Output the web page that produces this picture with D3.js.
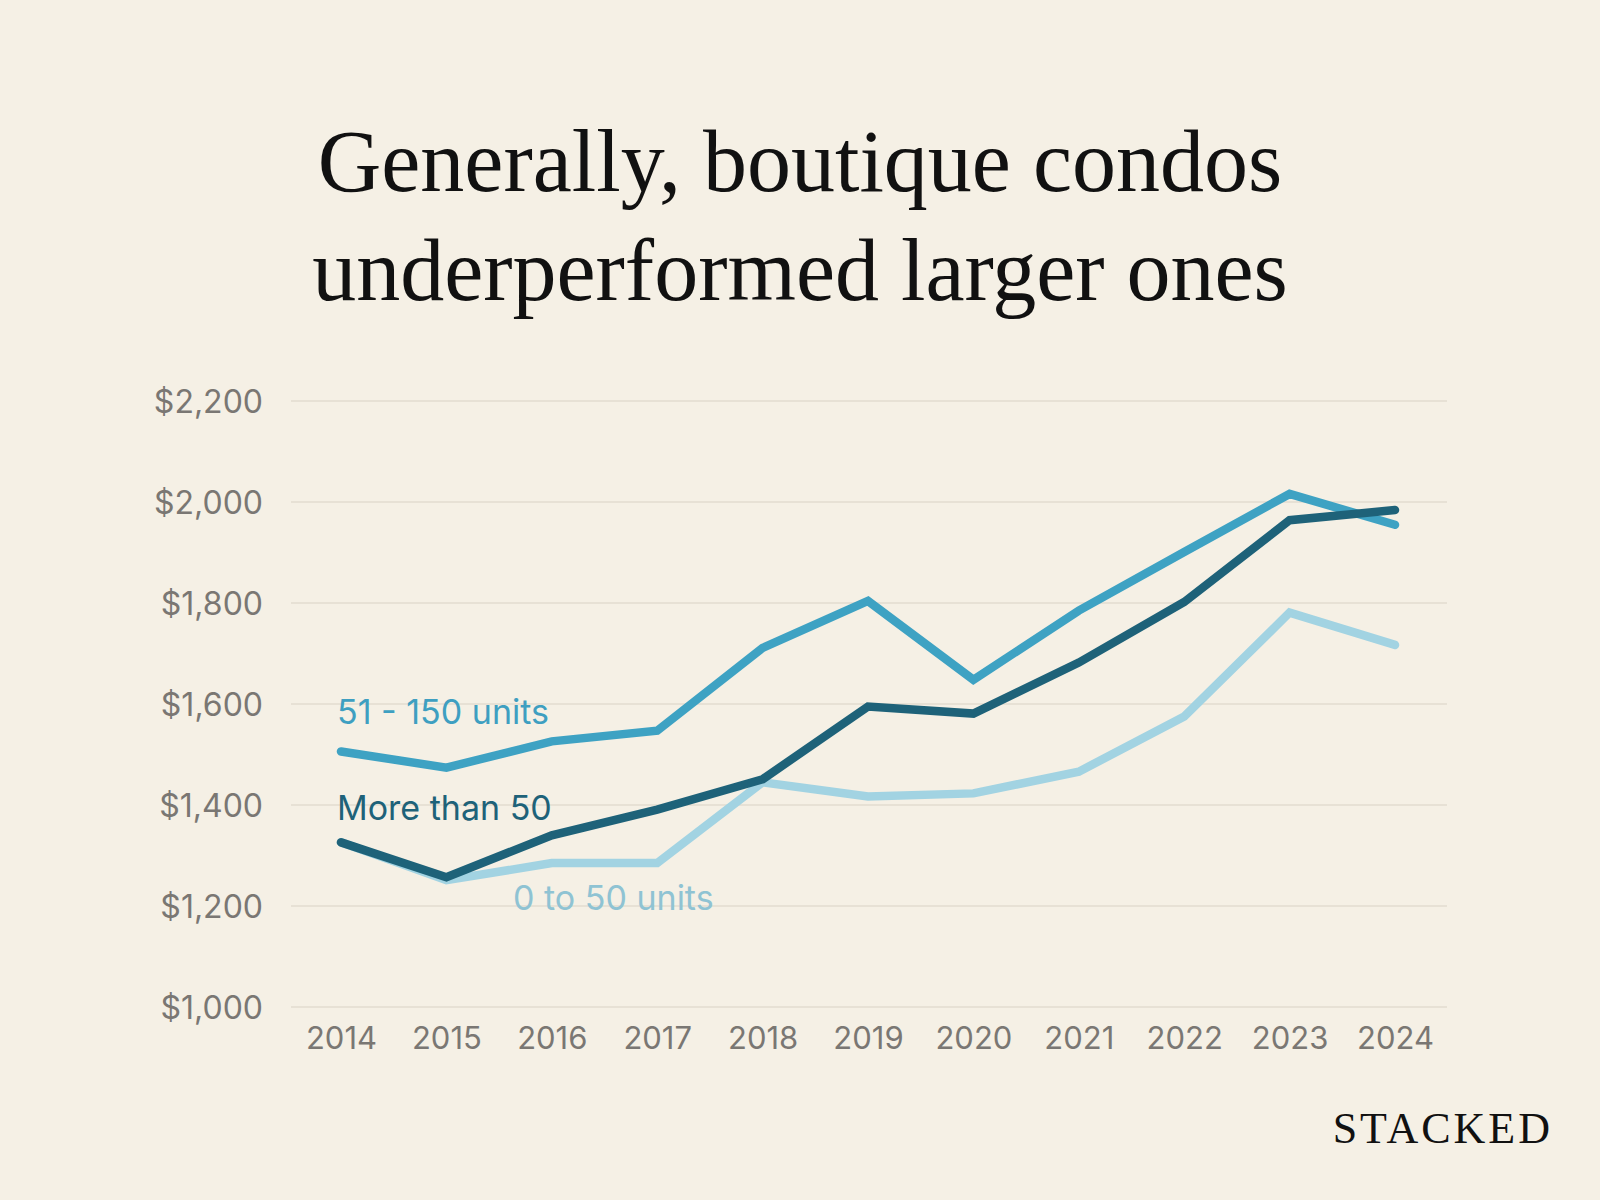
<!DOCTYPE html>
<html>
<head>
<meta charset="utf-8">
<script src="https://cdn.jsdelivr.net/npm/d3@7"></script>
<style>
  body { margin: 0; background: #f5f0e5; }
  svg { display: block; }
</style>
</head>
<body>
<svg id="chart" width="1600" height="1200"></svg>
<script>
// data
const years = ["2014", "2015", "2016", "2017", "2018", "2019", "2020", "2021", "2022", "2023", "2024"];
const mid = [1506, 1474, 1526, 1547, 1711, 1804, 1648, 1785, 1901, 2016, 1955];   // 51 - 150 units
const large = [1326, 1257, 1340, 1391, 1451, 1595, 1581, 1682, 1802, 1964, 1984]; // More than 50
const small = [1326, 1251, 1285, 1285, 1445, 1417, 1423, 1466, 1575, 1781, 1717]; // 0 to 50 units
const yTicks = [1000, 1200, 1400, 1600, 1800, 2000, 2200];

const svg = d3.select("#chart");

const xScale = d3.scalePoint().domain(years).range([341, 1395]);
const yScale = d3.scaleLinear().domain([1000, 2200]).range([1007, 401]);

// title
const title = svg.append("g")
    .attr("font-family", "'Liberation Serif', 'DejaVu Serif', serif")
    .attr("font-size", 88)
    .attr("fill", "#111")
    .attr("text-anchor", "middle");
title.append("text").attr("x", 800).attr("y", 191).text("Generally, boutique condos");
title.append("text").attr("x", 800).attr("y", 300).text("underperformed larger ones");

// grid lines
svg.append("g")
    .selectAll("line")
    .data(yTicks)
    .enter()
    .append("line")
    .attr("x1", 291)
    .attr("x2", 1447)
    .attr("y1", d => yScale(d))
    .attr("y2", d => yScale(d))
    .style("stroke", "#e2dccf")
    .style("stroke-width", 1.5);

// y axis labels
const yAxis = svg.append("g")
    .attr("transform", "translate(263,0)")
    .call(d3.axisLeft(yScale).tickValues(yTicks).tickSize(0).tickPadding(0)
        .tickFormat(d => "$" + d3.format(",")(d)));
yAxis.select(".domain").remove();
yAxis.selectAll("text")
    .attr("font-family", "Inter, 'Open Sans', sans-serif")
    .attr("font-size", 32)
    .attr("fill", "#7a7773")
    .attr("dy", "0.36em");

// x axis labels
const xAxis = svg.append("g")
    .attr("transform", "translate(0,1038)")
    .call(d3.axisBottom(xScale).tickSize(0).tickPadding(0));
xAxis.select(".domain").remove();
xAxis.selectAll("text")
    .attr("font-family", "Inter, 'Open Sans', sans-serif")
    .attr("font-size", 31)
    .attr("fill", "#7a7773")
    .attr("dy", "0.36em");

// lines
const line = d3.line()
    .x((d, i) => xScale(years[i]))
    .y(d => yScale(d));

const series = [
    { name: "0 to 50 units", values: small, color: "#a2d3e2" },
    { name: "51 - 150 units", values: mid, color: "#3ea2c3" },
    { name: "More than 50", values: large, color: "#1e6279" }
];

svg.append("g")
    .selectAll("path")
    .data(series)
    .enter()
    .append("path")
    .attr("d", d => line(d.values))
    .style("fill", "none")
    .style("stroke", d => d.color)
    .style("stroke-width", 8.5)
    .style("stroke-linecap", "round")
    .style("stroke-linejoin", "miter");

// series labels
const labels = [
    { text: "51 - 150 units", x: 337, y: 724, color: "#3e9fc1" },
    { text: "More than 50", x: 337, y: 820, color: "#1e6279" },
    { text: "0 to 50 units", x: 513, y: 910, color: "#8fc3d3" }
];
svg.append("g")
    .selectAll("text")
    .data(labels)
    .enter()
    .append("text")
    .attr("x", d => d.x)
    .attr("y", d => d.y)
    .attr("font-family", "Inter, 'Open Sans', sans-serif")
    .attr("font-size", 34)
    .attr("fill", d => d.color)
    .text(d => d.text);

// brand
svg.append("text")
    .attr("x", 1553)
    .attr("y", 1143)
    .attr("text-anchor", "end")
    .attr("font-family", "'Liberation Serif', serif")
    .attr("font-size", 44)
    .attr("letter-spacing", 3)
    .attr("fill", "#111")
    .text("STACKED");
</script>
</body>
</html>
